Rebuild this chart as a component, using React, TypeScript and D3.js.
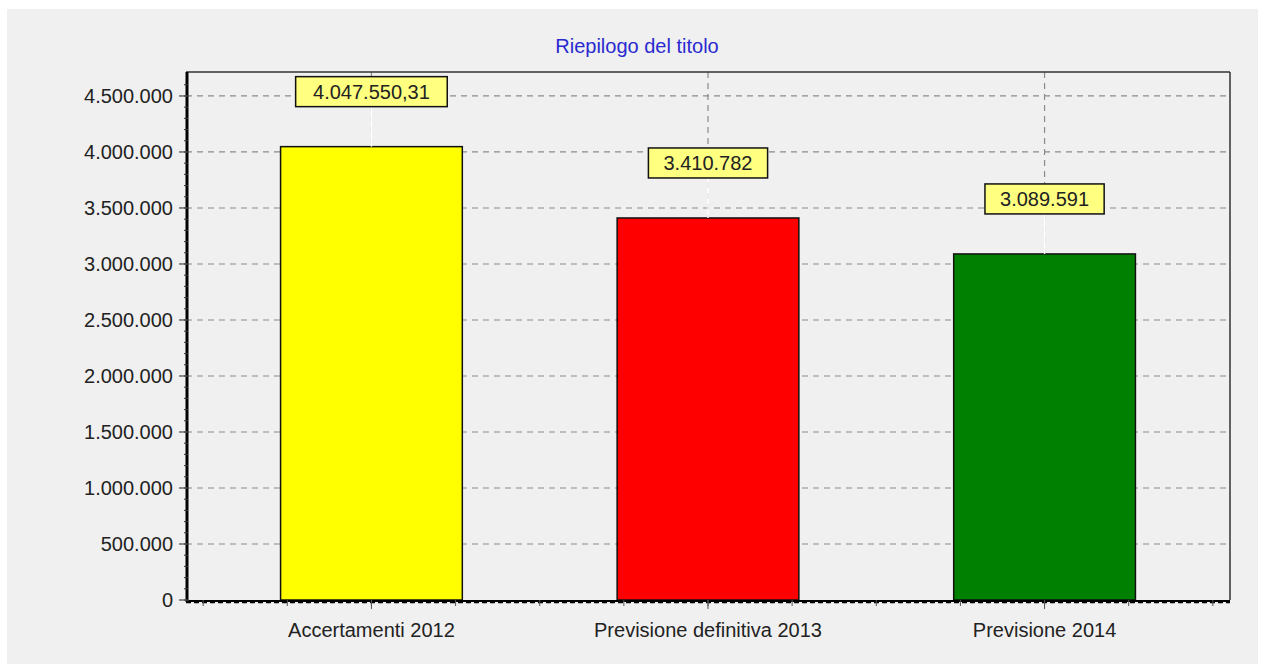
import React from "react";
import * as d3 from "d3";

const categories = ["Accertamenti 2012", "Previsione definitiva 2013", "Previsione 2014"];
const values = [4047550.31, 3410782, 3089591];
const barColors = ["#ffff00", "#ff0000", "#008000"];
const yTicks = [0, 500000, 1000000, 1500000, 2000000, 2500000, 3000000, 3500000, 4000000, 4500000];
const titleText = "Riepilogo del titolo";

const W = 1264;
const H = 664;
const plot = { left: 186, right: 1230, top: 72, bottom: 600 };
const FONT = "'Liberation Sans', Arial, sans-serif";

const itLocale = d3.formatLocale({ decimal: ",", thousands: ".", grouping: [3], currency: ["€", ""] });
const fmtTick = itLocale.format(",.0f");
const fmtValue = itLocale.format(",.2~f");

export default function App() {
  const y = d3.scaleLinear().domain([0, 4714000]).range([plot.bottom, plot.top]);
  const x = d3
    .scalePoint<string>()
    .domain(categories)
    .range([plot.left, plot.right])
    .padding(0.551);
  const step = x.step();
  const barW = step * 0.54;
  const minorY = d3.range(0, 4700000, 100000);
  const minorX = d3.range(-2, 11).map((i) => (x(categories[0]) as number) + (i * step) / 4).filter((v) => v > plot.left + 5 && v < plot.right - 5);

  return (
    <div style={{ position: "absolute", left: 0, top: 0 }}>
      <svg width={W} height={H} style={{ display: "block", fontFamily: FONT }}>
        <rect x={0} y={0} width={W} height={H} fill="#ffffff" />
        <rect x={7} y={9} width={1251} height={655} fill="#f0f0f0" />
        <text x={637} y={53} textAnchor="middle" fontSize={20} fill="#2a2ad0">
          {titleText}
        </text>

        {/* horizontal grid */}
        {yTicks.slice(1).map((t) => (
          <line key={"g" + t} x1={plot.left} x2={plot.right} y1={y(t)} y2={y(t)} stroke="#8a8a8a" strokeWidth={1.2} strokeDasharray="6,5" />
        ))}
        {/* vertical grid */}
        {categories.map((c) => (
          <line key={"v" + c} x1={x(c)} x2={x(c)} y1={plot.top} y2={plot.bottom} stroke="#8a8a8a" strokeWidth={1.2} strokeDasharray="6,5" />
        ))}

        {/* bars */}
        {categories.map((c, i) => (
          <rect
            key={"b" + c}
            x={(x(c) as number) - barW / 2}
            y={y(values[i])}
            width={barW}
            height={plot.bottom - y(values[i])}
            fill={barColors[i]}
            stroke="#111"
            strokeWidth={1.5}
          />
        ))}

        {/* frame */}
        <line x1={plot.left} x2={plot.right} y1={plot.top} y2={plot.top} stroke="#333" strokeWidth={1.5} />
        <line x1={plot.right} x2={plot.right} y1={plot.top} y2={plot.bottom} stroke="#333" strokeWidth={1.5} />
        <line x1={plot.left + 1} x2={plot.left + 1} y1={plot.top} y2={plot.bottom + 2} stroke="#000" strokeWidth={3} />
        <line x1={plot.left} x2={plot.right} y1={plot.bottom + 1} y2={plot.bottom + 1} stroke="#000" strokeWidth={2} />
        <line x1={plot.left} x2={plot.right} y1={plot.bottom + 2.5} y2={plot.bottom + 2.5} stroke="#000" strokeWidth={1.5} strokeDasharray="5,3" />

        {/* y ticks */}
        {minorY.map((t) => (
          <line key={"m" + t} x1={plot.left - 2} x2={plot.left + 2} y1={y(t)} y2={y(t)} stroke="#333" strokeWidth={1} />
        ))}
        {yTicks.map((t) => (
          <g key={"t" + t}>
            <line x1={plot.left - 7} x2={plot.left + 3} y1={y(t)} y2={y(t)} stroke="#444" strokeWidth={1.2} />
            <text x={plot.left - 13} y={y(t)} dy="0.36em" textAnchor="end" fontSize={20} fill="#222">
              {fmtTick(t)}
            </text>
          </g>
        ))}

        {/* x ticks */}
        {minorX.map((v, i) => (
          <line key={"xm" + i} x1={v} x2={v} y1={plot.bottom} y2={plot.bottom + 6} stroke="#555" strokeWidth={1} />
        ))}
        {categories.map((c) => (
          <g key={"xl" + c}>
            <line x1={x(c)} x2={x(c)} y1={plot.bottom} y2={plot.bottom + 9} stroke="#555" strokeWidth={1} />
            <text x={x(c)} y={637} textAnchor="middle" fontSize={20} fill="#222">
              {c}
            </text>
          </g>
        ))}

        {/* value labels */}
        {categories.map((c, i) => {
          const label = fmtValue(values[i]);
          const cx = x(c) as number;
          const top = y(values[i]);
          const boxH = 30;
          const boxW = label.length * 10.8 + 22;
          const by = top - 40 - boxH;
          return (
            <g key={"lab" + c}>
              <line x1={cx} x2={cx} y1={by + boxH} y2={top} stroke="#ffffff" strokeWidth={1.5} />
              <rect x={cx - boxW / 2} y={by} width={boxW} height={boxH} fill="#ffff80" stroke="#111" strokeWidth={1.5} />
              <text x={cx} y={by + boxH / 2} dy="0.36em" textAnchor="middle" fontSize={20} fill="#222">
                {label}
              </text>
            </g>
          );
        })}
      </svg>
    </div>
  );
}
